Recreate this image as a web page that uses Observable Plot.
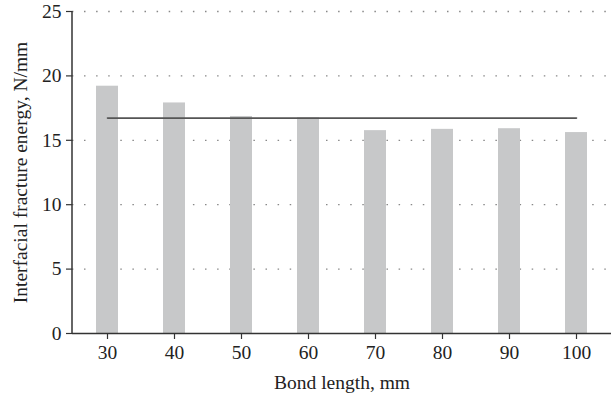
<!DOCTYPE html>
<html><head><meta charset="utf-8">
<script src="https://cdn.jsdelivr.net/npm/d3@7"></script>
<script src="https://cdn.jsdelivr.net/npm/@observablehq/plot@0.6"></script>
<style>body{margin:0;background:#fff;} svg{display:block;}</style>
</head><body><div id="chart"></div>
<script>
const bondLengths = [30, 40, 50, 60, 70, 80, 90, 100];
const energies = [19.2, 17.9, 16.85, 16.75, 15.75, 15.85, 15.9, 15.6];
const yTicks = [0, 5, 10, 15, 20, 25];
const gridTicks = [5, 10, 15, 20, 25];

const data = bondLengths.map((b, i) => ({b, e: energies[i]}));
const mean = d3.mean(energies);
const meanLine = bondLengths.map(b => ({b, e: mean}));
const FS = 19.5;

const chart = Plot.plot({
  width: 611, height: 400,
  marginLeft: 72, marginRight: 0, marginTop: 11, marginBottom: 67,
  style: {fontFamily: "Liberation Serif, serif", fontSize: FS + "px", color: "#222", background: "#fff"},
  x: {type: "band", domain: bondLengths, padding: 0.67, paddingOuter: 0.335, label: null, axis: null},
  y: {domain: [0, 25], label: null, axis: null},
  marks: [
    Plot.ruleY(gridTicks, {stroke: "#888", strokeWidth: 1.3, strokeDasharray: "1.5 10.6", strokeDashoffset: -12}),
    Plot.barY(data, {x: "b", y: "e", fill: "#c7c8c9"}),
    Plot.lineY(meanLine, {x: "b", y: "e", stroke: "#555", strokeWidth: 1.6}),
    Plot.axisY(yTicks, {tickSize: 6, tickPadding: 5, fontSize: FS, stroke: "#333", strokeWidth: 1.2, label: null}),
    Plot.axisX(bondLengths, {tickSize: 6, tickPadding: 6, fontSize: FS, stroke: "#333", strokeWidth: 1.2, label: null}),
    Plot.ruleY([0], {stroke: "#333", strokeWidth: 1.5}),
    Plot.text(["Bond length, mm"], {frameAnchor: "bottom", dy: 55, fontSize: FS, fill: "#222"}),
    Plot.text(["Interfacial fracture energy, N/mm"], {frameAnchor: "left", textAnchor: "middle", dx: -52, rotate: -90, fontSize: FS, fill: "#222"})
  ]
});
const y = chart.scale("y");
d3.select(chart).append("line")
  .attr("x1", 72).attr("x2", 72)
  .attr("y1", y.apply(0)).attr("y2", y.apply(25))
  .attr("stroke", "#333").attr("stroke-width", 1.5);
document.getElementById("chart").appendChild(chart);
</script>
</body></html>
